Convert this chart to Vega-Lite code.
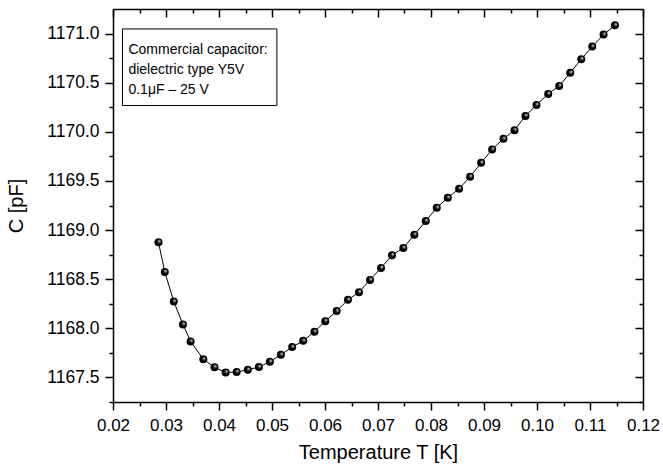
{
  "$schema": "https://vega.github.io/schema/vega-lite/v6.json",
  "width": 530,
  "height": 393,
  "autosize": "none",
  "padding": {"left": 113, "top": 9, "right": 20, "bottom": 65},
  "background": "white",
  "config": {
    "view": {"stroke": null},
    "font": "Liberation Sans",
    "axis": {"labelFont": "Liberation Sans", "titleFont": "Liberation Sans", "labelColor": "black", "titleColor": "black", "tickColor": "black", "domainColor": "black", "grid": false, "titleFontWeight": "normal"}
  },
  "datasets": {
    "pts": [
      {"T": 0.02858, "C": 1168.876},
      {"T": 0.02977, "C": 1168.574},
      {"T": 0.03147, "C": 1168.272},
      {"T": 0.0332, "C": 1168.039},
      {"T": 0.03464, "C": 1167.867},
      {"T": 0.03704, "C": 1167.685},
      {"T": 0.03915, "C": 1167.604},
      {"T": 0.04125, "C": 1167.551},
      {"T": 0.04333, "C": 1167.555},
      {"T": 0.04544, "C": 1167.578},
      {"T": 0.04752, "C": 1167.606},
      {"T": 0.0496, "C": 1167.66},
      {"T": 0.05168, "C": 1167.731},
      {"T": 0.05381, "C": 1167.809},
      {"T": 0.05589, "C": 1167.873},
      {"T": 0.058, "C": 1167.964},
      {"T": 0.06005, "C": 1168.073},
      {"T": 0.0622, "C": 1168.175},
      {"T": 0.06433, "C": 1168.29},
      {"T": 0.06641, "C": 1168.368},
      {"T": 0.06849, "C": 1168.493},
      {"T": 0.07057, "C": 1168.615},
      {"T": 0.07264, "C": 1168.744},
      {"T": 0.07478, "C": 1168.818},
      {"T": 0.07686, "C": 1168.953},
      {"T": 0.07901, "C": 1169.092},
      {"T": 0.08109, "C": 1169.228},
      {"T": 0.08317, "C": 1169.329},
      {"T": 0.0853, "C": 1169.421},
      {"T": 0.08738, "C": 1169.543},
      {"T": 0.08946, "C": 1169.685},
      {"T": 0.09153, "C": 1169.821},
      {"T": 0.09367, "C": 1169.929},
      {"T": 0.09575, "C": 1170.017},
      {"T": 0.09782, "C": 1170.162},
      {"T": 0.0999, "C": 1170.274},
      {"T": 0.10211, "C": 1170.386},
      {"T": 0.10419, "C": 1170.467},
      {"T": 0.10627, "C": 1170.6},
      {"T": 0.10835, "C": 1170.739},
      {"T": 0.11042, "C": 1170.868},
      {"T": 0.11256, "C": 1170.99},
      {"T": 0.11471, "C": 1171.084}
    ],
    "note": [
      {"x1": 0.02178, "x2": 0.05092, "y1": 1171.047, "y2": 1170.268, "tx": 0.02291, "ty": 1170.79, "label": ["Commercial capacitor:", "dielectric type Y5V", "0.1μF – 25 V"]}
    ]
  },
  "resolve": {"axis": {"x": "independent", "y": "independent"}},
  "layer": [
    {
      "data": {"name": "pts"},
      "mark": {"type": "line", "color": "black", "strokeWidth": 1},
      "encoding": {
        "x": {"field": "T", "type": "quantitative", "scale": {"domain": [0.02, 0.12], "nice": false, "zero": false},
          "axis": {"orient": "bottom", "values": [0.02, 0.03, 0.04, 0.05, 0.06, 0.07, 0.08, 0.09, 0.1, 0.11, 0.12], "format": ".2f", "tickSize": 8, "labelFontSize": 17, "labelPadding": 7, "title": "Temperature T [K]", "titleFontSize": 20, "titlePadding": 9, "domainWidth": 1.5, "tickWidth": 1.5, "labelFlush": false}},
        "y": {"field": "C", "type": "quantitative", "scale": {"domain": [1167.25, 1171.25], "nice": false, "zero": false},
          "axis": {"orient": "left", "values": [1167.5, 1168.0, 1168.5, 1169.0, 1169.5, 1170.0, 1170.5, 1171.0], "format": ".1f", "tickSize": 8, "labelFontSize": 17.5, "labelPadding": 6, "title": "C [pF]", "titleFontSize": 20, "titlePadding": 20, "domainWidth": 1.5, "tickWidth": 1.5}}
      }
    },
    {
      "data": {"name": "pts"},
      "mark": {"type": "point", "filled": true, "size": 64, "opacity": 1,
        "fill": {"gradient": "radial", "x1": 0.65, "y1": 0.35, "r1": 0, "x2": 0.5, "y2": 0.5, "r2": 0.55,
          "stops": [{"offset": 0, "color": "#ffffff"}, {"offset": 0.2, "color": "#888888"}, {"offset": 0.5, "color": "#000000"}, {"offset": 1, "color": "#000000"}]}},
      "encoding": {
        "x": {"field": "T", "type": "quantitative",
          "axis": {"orient": "bottom", "values": [0.025, 0.035, 0.045, 0.055, 0.065, 0.075, 0.085, 0.095, 0.105, 0.115], "tickSize": 4, "labels": false, "domain": false, "title": null, "tickWidth": 1.5}},
        "y": {"field": "C", "type": "quantitative",
          "axis": {"orient": "left", "values": [1167.25, 1167.75, 1168.25, 1168.75, 1169.25, 1169.75, 1170.25, 1170.75], "tickSize": 4, "labels": false, "domain": false, "title": null, "tickWidth": 1.5}}
      }
    },
    {
      "data": {"name": "note"},
      "mark": {"type": "rect", "fill": "white", "stroke": "black", "strokeWidth": 1},
      "encoding": {
        "x": {"field": "x1", "type": "quantitative",
          "axis": {"orient": "top", "values": [0.02, 0.03, 0.04, 0.05, 0.06, 0.07, 0.08, 0.09, 0.1, 0.11, 0.12], "tickSize": -8, "labels": false, "title": null, "domainWidth": 1.5, "tickWidth": 1.5}},
        "x2": {"field": "x2"},
        "y": {"field": "y1", "type": "quantitative",
          "axis": {"orient": "right", "values": [1167.5, 1168.0, 1168.5, 1169.0, 1169.5, 1170.0, 1170.5, 1171.0], "tickSize": -8, "labels": false, "title": null, "domainWidth": 1.5, "tickWidth": 1.5}},
        "y2": {"field": "y2"}
      }
    },
    {
      "data": {"name": "note"},
      "mark": {"type": "text", "align": "left", "baseline": "alphabetic", "fontSize": 14, "lineHeight": 19.7, "color": "black", "font": "Liberation Sans"},
      "encoding": {
        "x": {"field": "tx", "type": "quantitative",
          "axis": {"orient": "top", "values": [0.025, 0.035, 0.045, 0.055, 0.065, 0.075, 0.085, 0.095, 0.105, 0.115], "tickSize": -4, "labels": false, "domain": false, "title": null, "tickWidth": 1.5}},
        "y": {"field": "ty", "type": "quantitative",
          "axis": {"orient": "right", "values": [1167.25, 1167.75, 1168.25, 1168.75, 1169.25, 1169.75, 1170.25, 1170.75], "tickSize": -4, "labels": false, "domain": false, "title": null, "tickWidth": 1.5}},
        "text": {"field": "label"}
      }
    }
  ]
}
